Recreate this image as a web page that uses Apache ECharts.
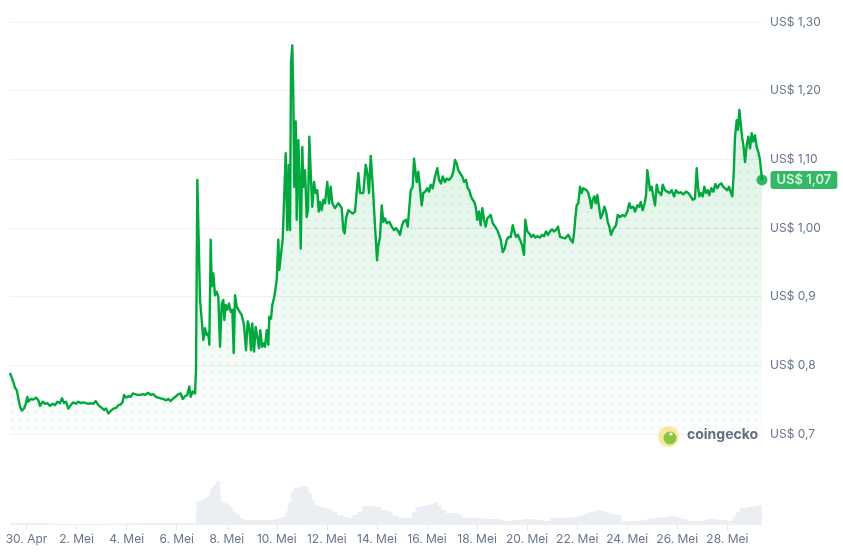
<!DOCTYPE html>
<html><head><meta charset="utf-8">
<script src="https://cdn.jsdelivr.net/npm/echarts@6/dist/echarts.min.js"></script>
<style>html,body{margin:0;padding:0;background:#fff}#c{width:843px;height:553px}</style>
</head><body><div id="c"></div>
<script>
// Price: [day offset from 30 Apr 00:00, price in US$]
const pricePoints = [
[-0.66,0.789],[-0.527,0.776],[-0.459,0.767],[-0.392,0.764],[-0.328,0.752],[-0.260,0.740],[-0.192,0.734],[-0.100,0.737],[-0.020,0.745],[0.032,0.754],
[0.072,0.747],[0.168,0.751],[0.272,0.750],[0.380,0.753],[0.471,0.749],[0.539,0.741],[0.647,0.747],[0.739,0.744],[0.831,0.745],[0.939,0.741],
[1.047,0.744],[1.139,0.742],[1.230,0.747],[1.338,0.745],[1.418,0.752],[1.498,0.745],[1.578,0.747],[1.670,0.737],[1.766,0.742],[1.870,0.746],
[1.978,0.744],[2.069,0.747],[2.165,0.745],[2.269,0.746],[2.377,0.745],[2.469,0.744],[2.565,0.745],[2.669,0.744],[2.765,0.748],[2.868,0.742],
[3.004,0.738],[3.096,0.735],[3.176,0.737],[3.268,0.730],[3.376,0.734],[3.468,0.737],[3.576,0.738],[3.668,0.742],[3.763,0.743],[3.843,0.747],
[3.895,0.757],[3.975,0.753],[4.067,0.755],[4.163,0.754],[4.243,0.759],[4.335,0.758],[4.427,0.757],[4.535,0.757],[4.642,0.758],[4.734,0.757],
[4.866,0.760],[4.962,0.757],[5.066,0.758],[5.174,0.754],[5.266,0.753],[5.361,0.752],[5.465,0.751],[5.573,0.749],[5.665,0.751],[5.761,0.748],
[5.865,0.752],[5.973,0.755],[6.065,0.758],[6.161,0.759],[6.240,0.751],[6.332,0.755],[6.424,0.757],[6.504,0.769],[6.560,0.754],[6.640,0.762],
[6.732,0.759],[6.772,0.793],[6.824,1.070],[6.864,1.070],[6.932,0.895],[7.000,0.866],[7.063,0.837],[7.131,0.854],[7.199,0.844],[7.263,0.847],
[7.303,0.830],[7.359,0.983],[7.399,0.915],[7.463,0.934],[7.531,0.902],[7.599,0.907],[7.663,0.900],[7.731,0.827],[7.799,0.890],[7.862,0.895],
[7.902,0.866],[7.958,0.888],[8.022,0.881],[8.090,0.890],[8.158,0.878],[8.222,0.881],[8.278,0.818],[8.330,0.902],[8.398,0.885],[8.462,0.881],
[8.598,0.873],[8.689,0.859],[8.769,0.822],[8.837,0.864],[8.901,0.856],[8.969,0.822],[9.021,0.861],[9.089,0.820],[9.157,0.856],[9.221,0.854],
[9.289,0.825],[9.341,0.851],[9.409,0.827],[9.477,0.832],[9.528,0.827],[9.596,0.851],[9.660,0.830],[9.700,0.871],[9.768,0.868],[9.820,0.888],
[9.900,0.900],[9.996,0.924],[10.060,0.983],[10.100,0.939],[10.168,0.939],[10.236,0.985],[10.288,0.983],[10.356,1.109],[10.419,0.997],[10.475,1.092],
[10.527,0.997],[10.567,1.240],[10.619,1.266],[10.659,1.191],[10.699,1.060],[10.755,1.155],[10.795,1.012],[10.859,1.128],[10.899,1.084],[10.955,0.970],
[11.019,1.118],[11.059,1.060],[11.127,1.084],[11.194,1.016],[11.246,1.026],[11.298,1.133],[11.366,1.070],[11.418,1.031],[11.486,1.067],[11.554,1.051],
[11.618,1.055],[11.674,1.024],[11.726,1.038],[11.794,1.026],[11.858,1.041],[11.926,1.036],[12.017,1.067],[12.085,1.036],[12.153,1.060],[12.217,1.036],
[12.325,1.029],[12.457,1.036],[12.525,1.033],[12.593,1.029],[12.657,0.997],[12.713,0.992],[12.765,1.014],[12.857,1.026],[12.925,1.024],[13.032,1.021],
[13.124,1.024],[13.192,1.053],[13.256,1.080],[13.324,1.051],[13.456,1.051],[13.552,1.092],[13.616,1.080],[13.684,1.051],[13.752,1.105],[13.832,1.063],
[13.895,1.021],[13.963,0.978],[14.003,0.953],[14.055,0.975],[14.123,0.987],[14.191,1.033],[14.255,1.009],[14.323,1.014],[14.391,1.007],[14.495,1.009],
[14.590,1.002],[14.682,0.997],[14.762,1.000],[14.854,0.995],[14.922,0.990],[14.990,1.002],[15.054,1.009],[15.162,1.012],[15.230,1.002],[15.293,1.000],
[15.349,1.055],[15.429,1.060],[15.481,1.101],[15.533,1.084],[15.589,1.067],[15.653,1.082],[15.721,1.058],[15.789,1.033],[15.853,1.051],[15.933,1.053],
[16.013,1.058],[16.081,1.053],[16.149,1.063],[16.229,1.058],[16.320,1.075],[16.412,1.087],[16.480,1.070],[16.560,1.065],[16.628,1.075],[16.720,1.067],
[16.788,1.072],[16.880,1.070],[16.988,1.075],[17.052,1.082],[17.119,1.099],[17.187,1.094],[17.251,1.084],[17.319,1.082],[17.411,1.075],[17.479,1.067],
[17.559,1.070],[17.627,1.058],[17.691,1.055],[17.759,1.046],[17.827,1.041],[17.890,1.038],[17.946,1.031],[18.010,1.012],[18.078,1.024],[18.146,1.004],
[18.210,1.029],[18.278,1.012],[18.346,1.002],[18.410,1.014],[18.478,1.012],[18.546,1.019],[18.626,1.007],[18.718,1.002],[18.810,0.997],[18.877,0.997],
[18.945,0.983],[19.025,0.965],[19.105,0.970],[19.185,0.983],[19.265,0.987],[19.345,0.987],[19.425,1.004],[19.488,0.995],[19.556,0.987],[19.636,0.990],
[19.716,0.983],[19.796,0.975],[19.876,0.961],[19.928,1.012],[20.008,0.995],[20.088,0.992],[20.168,0.987],[20.248,0.990],[20.328,0.986],[20.408,0.988],
[20.515,0.986],[20.595,0.990],[20.675,0.988],[20.755,0.995],[20.835,0.990],[20.915,0.995],[20.995,0.998],[21.075,0.995],[21.155,0.997],[21.235,1.002],
[21.315,0.987],[21.514,0.985],[21.646,0.990],[21.742,0.983],[21.822,0.979],[21.873,0.992],[21.925,1.014],[21.981,1.033],[22.045,1.036],[22.113,1.060],
[22.181,1.051],[22.245,1.058],[22.313,1.060],[22.381,1.055],[22.445,1.051],[22.513,1.041],[22.564,1.029],[22.621,1.041],[22.684,1.046],[22.740,1.036],
[22.804,1.048],[22.872,1.031],[22.940,1.014],[23.020,1.021],[23.084,1.031],[23.152,1.024],[23.220,1.009],[23.284,1.002],[23.352,0.990],[23.420,0.997],
[23.483,0.995],[23.551,1.004],[23.619,1.019],[23.711,1.016],[23.819,1.019],[23.911,1.017],[24.003,1.024],[24.083,1.036],[24.151,1.029],[24.243,1.031],
[24.311,1.024],[24.403,1.033],[24.483,1.031],[24.539,1.038],[24.618,1.026],[24.698,1.036],[24.750,1.047],[24.802,1.084],[24.858,1.070],[24.910,1.055],
[24.978,1.060],[25.042,1.046],[25.110,1.033],[25.178,1.063],[25.241,1.053],[25.309,1.055],[25.361,1.048],[25.417,1.063],[25.509,1.055],[25.601,1.053],
[25.681,1.051],[25.777,1.055],[25.869,1.046],[25.949,1.055],[26.040,1.051],[26.136,1.052],[26.240,1.049],[26.348,1.053],[26.440,1.051],[26.536,1.046],
[26.616,1.041],[26.707,1.043],[26.775,1.087],[26.827,1.060],[26.879,1.046],[26.935,1.051],[27.015,1.046],[27.079,1.060],[27.147,1.051],[27.215,1.055],
[27.279,1.048],[27.359,1.058],[27.439,1.053],[27.519,1.064],[27.599,1.058],[27.679,1.063],[27.759,1.065],[27.839,1.060],[27.918,1.058],[27.998,1.055],
[28.066,1.060],[28.146,1.051],[28.198,1.046],[28.254,1.080],[28.306,1.133],[28.374,1.157],[28.426,1.143],[28.478,1.172],[28.534,1.152],[28.586,1.133],
[28.638,1.121],[28.706,1.096],[28.774,1.121],[28.838,1.133],[28.905,1.116],[28.973,1.138],[29.037,1.126],[29.105,1.135],[29.173,1.118],[29.236,1.111],
[29.304,1.099],[29.384,1.070]
];
// Volume (relative units)
const volumeDays = [-0.66,-0.02,1.34,3.34,4.94,6.14,6.77,6.81,6.93,7.13,7.21,7.33,7.41,7.53,7.65,7.77,7.81,7.93,8.13,8.21,8.33,8.45,8.61,8.73,9.73,9.93,10.21,10.41,10.53,10.61,10.73,10.85,11.05,11.25,11.33,11.45,11.57,11.73,11.93,12.13,12.33,12.53,12.73,12.93,13.12,13.32,13.52,13.92,14.04,14.32,14.52,14.72,14.92,15.40,15.44,15.64,15.80,16.04,16.24,16.40,16.52,16.64,16.84,17.12,17.32,17.52,18.52,19.12,19.52,19.92,20.51,20.71,21.11,21.91,22.11,22.31,22.51,22.83,23.11,23.39,23.63,23.91,24.71,24.91,25.31,25.71,26.03,26.19,26.51,27.31,27.71,28.11,28.31,28.43,28.59,28.82,29.10,29.30,29.38];
const volumeValues = [2,2,1,1.5,2,2,2,23,25,26,28,30,37,40,44,44,23,21,19,17,13,10,7,5,5,6,8,12,23,33,37,38,39,38,32,25,20,18,17,16,13,10,8,7,10,13,19,19,18,15,13,9,7,7,13,18,19,20,22,24,19,15,12,12,10,7,6,4,5,6,5,4,7,8,9,11,13,15,13,11,10,4,5,7,8,9,8,6,4,6,5,4,8,13,17,18,19,20,20];
const xTickDays = [0,2,4,6,8,10,12,14,16,18,20,22,24,26,28];
const xTickLabels = ['30. Apr','2. Mei','4. Mei','6. Mei','8. Mei','10. Mei','12. Mei','14. Mei','16. Mei','18. Mei','20. Mei','22. Mei','24. Mei','26. Mei','28. Mei'];
const yTickValues = [0.7,0.8,0.9,1.0,1.1,1.2,1.3];
const yTickLabels = ['US$ 0,7','US$ 0,8','US$ 0,9','US$ 1,00','US$ 1,10','US$ 1,20','US$ 1,30'];

const xMin = pricePoints[0][0];
const xMax = pricePoints[pricePoints.length - 1][0];
const last = pricePoints[pricePoints.length - 1];
const volumePoints = volumeDays.map((d, i) => [d, volumeValues[i]]);

const pc = document.createElement('canvas');
pc.width = 8; pc.height = 8;
const pctx = pc.getContext('2d');
pctx.fillStyle = 'rgba(0,110,50,0.07)';
pctx.beginPath(); pctx.arc(4, 4, 1.2, 0, Math.PI * 2); pctx.fill();

const green = '#00a83e';
const chart = echarts.init(document.getElementById('c'), null, {renderer: 'canvas'});
chart.setOption({
  animation: false,
  backgroundColor: '#ffffff',
  textStyle: {fontFamily: 'Inter, "Noto Sans", sans-serif'},
  grid: [
    {left: 10, right: 81, top: 22, bottom: 119},
    {left: 10, right: 81, top: 478, height: 47}
  ],
  xAxis: [
    {type: 'value', gridIndex: 0, min: xMin, max: xMax, show: false},
    {type: 'value', gridIndex: 1, min: xMin, max: xMax,
      axisLine: {show: false}, splitLine: {show: false},
      axisTick: {show: true, length: 5, lineStyle: {color: '#e2e5ea'}, customValues: xTickDays},
      axisLabel: {customValues: xTickDays, color: '#677489', fontSize: 12, margin: 8,
        formatter: v => { const i = xTickDays.findIndex(t => Math.abs(t - v) < 1e-6); return i >= 0 ? xTickLabels[i] : ''; }}
    }
  ],
  yAxis: [
    {type: 'value', gridIndex: 0, position: 'right', min: 0.7, max: 1.3, interval: 0.1,
      axisLine: {show: false}, axisTick: {show: false},
      splitLine: {lineStyle: {color: '#eef0f3', width: 1}},
      axisLabel: {color: '#677489', fontSize: 12, margin: 8,
        formatter: v => { const i = yTickValues.findIndex(t => Math.abs(t - v) < 1e-6); return i >= 0 ? yTickLabels[i] : ''; }}
    },
    {type: 'value', gridIndex: 1, min: 0, max: 47, show: false}
  ],
  series: [
    {type: 'line', xAxisIndex: 1, yAxisIndex: 1, data: volumePoints, step: 'middle', symbol: 'none', silent: true,
      lineStyle: {width: 0}, areaStyle: {color: '#ebeef2', opacity: 1}},
    {type: 'line', xAxisIndex: 0, yAxisIndex: 0, data: pricePoints, symbol: 'none', silent: true, z: 1,
      lineStyle: {width: 0, opacity: 0}, areaStyle: {color: {image: pc, repeat: 'repeat'}, opacity: 1}},
    {type: 'line', xAxisIndex: 0, yAxisIndex: 0, data: pricePoints, symbol: 'none', z: 2,
      lineStyle: {color: green, width: 2.4, join: 'round'},
      areaStyle: {color: new echarts.graphic.LinearGradient(0, 0, 0, 1, [
        {offset: 0, color: 'rgba(0,168,62,0.24)'},
        {offset: 1, color: 'rgba(0,168,62,0.02)'}
      ])}},
    {type: 'scatter', xAxisIndex: 0, yAxisIndex: 0, data: [last], symbolSize: 11, clip: false, z: 5,
      itemStyle: {color: green},
      label: {show: true, position: 'right', distance: 3, formatter: p => 'US$ ' + p.value[1].toFixed(2).replace('.', ','),
        backgroundColor: green, color: '#fff', fontSize: 13, fontWeight: 600, padding: [3, 6, 2, 6], borderRadius: 3}}
  ],
  graphic: [
    {type: 'circle', z: 100, shape: {cx: 668.5, cy: 436.5, r: 10.5}, style: {fill: '#f6eaa0'}, silent: true},
    {type: 'circle', z: 101, shape: {cx: 670, cy: 438, r: 6.5}, style: {fill: '#8cc540'}, silent: true},
    {type: 'circle', z: 102, shape: {cx: 671, cy: 434, r: 1.6}, style: {fill: '#ffffff'}, silent: true},
    {type: 'text', z: 100, left: 687, top: 428, style: {text: 'coingecko', fill: '#626e82', font: 'bold 14px Inter, "Noto Sans", sans-serif'}, silent: true}
  ]
});
</script></body></html>
